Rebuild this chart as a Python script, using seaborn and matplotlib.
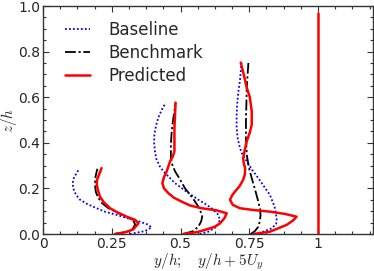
import numpy as np
import pandas as pd
import matplotlib
matplotlib.use("Agg")
import matplotlib.pyplot as plt
import seaborn as sns
from matplotlib.ticker import MultipleLocator

# ---- data (x = y/h + 5U_y, z = z/h) ----
# Station 1
s1_base_x = [0.316, 0.371, 0.395, 0.380, 0.353, 0.310, 0.268, 0.225, 0.195, 0.160, 0.135, 0.120, 0.110, 0.108, 0.112, 0.121, 0.132]
s1_base_z = [0.000, 0.013, 0.029, 0.042, 0.054, 0.068, 0.084, 0.098, 0.113, 0.132, 0.150, 0.172, 0.200, 0.223, 0.245, 0.265, 0.286]
s1_bench_x = [0.258, 0.300, 0.325, 0.335, 0.328, 0.300, 0.268, 0.238, 0.215, 0.200, 0.192, 0.189, 0.190, 0.194, 0.198]
s1_bench_z = [0.000, 0.008, 0.020, 0.042, 0.060, 0.078, 0.096, 0.113, 0.135, 0.160, 0.185, 0.215, 0.245, 0.268, 0.286]
s1_pred_x = [0.262, 0.300, 0.328, 0.347, 0.335, 0.304, 0.270, 0.244, 0.222, 0.207, 0.199, 0.195, 0.197, 0.201, 0.207, 0.213]
s1_pred_z = [0.000, 0.008, 0.020, 0.047, 0.062, 0.076, 0.095, 0.113, 0.138, 0.164, 0.195, 0.223, 0.240, 0.252, 0.270, 0.289]

# Station 2
s2_base_x = [0.570, 0.601, 0.632, 0.644, 0.635, 0.613, 0.590, 0.565, 0.535, 0.504, 0.478, 0.456, 0.438, 0.425, 0.412, 0.407, 0.404, 0.405, 0.411, 0.419, 0.432, 0.446]
s2_base_z = [0.000, 0.010, 0.032, 0.062, 0.088, 0.113, 0.132, 0.150, 0.175, 0.201, 0.225, 0.252, 0.275, 0.296, 0.330, 0.363, 0.400, 0.436, 0.475, 0.510, 0.545, 0.576]
s2_bench_x = [0.510, 0.545, 0.565, 0.575, 0.579, 0.570, 0.553, 0.535, 0.516, 0.498, 0.480, 0.470, 0.465, 0.465, 0.468, 0.473, 0.478, 0.482]
s2_bench_z = [0.000, 0.012, 0.032, 0.055, 0.076, 0.110, 0.142, 0.172, 0.201, 0.240, 0.275, 0.305, 0.333, 0.390, 0.451, 0.500, 0.540, 0.576]
s2_pred_x = [0.510, 0.560, 0.589, 0.625, 0.644, 0.660, 0.668, 0.630, 0.577, 0.535, 0.504, 0.475, 0.456, 0.440, 0.434, 0.440, 0.450, 0.462, 0.472, 0.478, 0.478, 0.478, 0.480, 0.482]
s2_pred_z = [0.000, 0.008, 0.018, 0.032, 0.047, 0.070, 0.091, 0.104, 0.113, 0.125, 0.142, 0.160, 0.179, 0.200, 0.223, 0.250, 0.275, 0.319, 0.340, 0.363, 0.420, 0.466, 0.520, 0.576]

# Station 3
s3_base_x = [0.770, 0.800, 0.832, 0.848, 0.850, 0.842, 0.825, 0.803, 0.783, 0.760, 0.741, 0.725, 0.716, 0.708, 0.704, 0.704, 0.706, 0.710, 0.716, 0.722]
s3_base_z = [0.000, 0.010, 0.025, 0.045, 0.069, 0.120, 0.172, 0.210, 0.245, 0.282, 0.319, 0.350, 0.378, 0.420, 0.466, 0.520, 0.568, 0.620, 0.671, 0.752]
s3_bench_x = [0.755, 0.770, 0.783, 0.789, 0.791, 0.789, 0.783, 0.771, 0.759, 0.748, 0.741, 0.738, 0.738, 0.741, 0.744, 0.747]
s3_bench_z = [0.000, 0.012, 0.032, 0.058, 0.084, 0.110, 0.142, 0.195, 0.245, 0.295, 0.348, 0.420, 0.495, 0.642, 0.700, 0.752]
s3_pred_x = [0.765, 0.825, 0.886, 0.910, 0.922, 0.880, 0.825, 0.760, 0.716, 0.690, 0.680, 0.688, 0.698, 0.715, 0.728, 0.734, 0.735, 0.730, 0.728, 0.734, 0.741, 0.752, 0.759, 0.759, 0.752, 0.741, 0.730, 0.719]
s3_pred_z = [0.000, 0.010, 0.040, 0.060, 0.076, 0.088, 0.098, 0.106, 0.113, 0.128, 0.150, 0.170, 0.186, 0.210, 0.238, 0.262, 0.289, 0.310, 0.333, 0.370, 0.407, 0.445, 0.480, 0.539, 0.600, 0.642, 0.700, 0.752]

# Station 4 (wall / outlet)
s4_pred_x = [1.0, 1.0]
s4_pred_z = [0.0, 0.97]

x_ticks = [0, 0.25, 0.5, 0.75, 1.0]
x_tick_labels = ["0", "0.25", "0.5", "0.75", "1"]
y_ticks = [0.0, 0.2, 0.4, 0.6, 0.8, 1.0]
y_tick_labels = ["0.0", "0.2", "0.4", "0.6", "0.8", "1.0"]

sns.set_style("white")
plt.rcParams["font.family"] = ["DejaVu Sans"]
plt.rcParams["mathtext.fontset"] = "cm"

fig = plt.figure(figsize=(3.74, 2.71), dpi=100)
ax = fig.add_axes([43/374, 37/271, 330/374, 228/271])

styles = {
    "Baseline": dict(color="blue", linestyle=(0, (1, 1.2)), linewidth=1.3),
    "Benchmark": dict(color="black", linestyle=(0, (6, 1.5, 1.2, 1.5)), linewidth=1.3),
    "Predicted": dict(color="red", linestyle="-", linewidth=1.8),
}

profiles = [
    ("Baseline", s1_base_x, s1_base_z),
    ("Benchmark", s1_bench_x, s1_bench_z),
    ("Predicted", s1_pred_x, s1_pred_z),
    ("Baseline", s2_base_x, s2_base_z),
    ("Benchmark", s2_bench_x, s2_bench_z),
    ("Predicted", s2_pred_x, s2_pred_z),
    ("Baseline", s3_base_x, s3_base_z),
    ("Benchmark", s3_bench_x, s3_bench_z),
    ("Predicted", s3_pred_x, s3_pred_z),
    ("Predicted", s4_pred_x, s4_pred_z),
]

seen = set()
for name, xs, zs in profiles:
    df = pd.DataFrame({"x": xs, "z": zs})
    lab = name if name not in seen else None
    seen.add(name)
    sns.lineplot(data=df, x="x", y="z", sort=False, estimator=None, ax=ax,
                 label=lab, **styles[name])

ax.set_xlim(0, 1.2)
ax.set_ylim(0, 1.0)
ax.set_xticks(x_ticks)
ax.set_xticklabels(x_tick_labels)
ax.set_yticks(y_ticks)
ax.set_yticklabels(y_tick_labels)
ax.xaxis.set_minor_locator(MultipleLocator(0.0625))
ax.yaxis.set_minor_locator(MultipleLocator(0.05))
ax.tick_params(which="both", direction="in", top=True, right=True, bottom=True, left=True,
               labelsize=10, color="#333333", width=0.8)
ax.tick_params(which="major", length=4, pad=2)
ax.tick_params(which="minor", length=2)
for sp in ax.spines.values():
    sp.set_color("#333333")
    sp.set_linewidth(1.0)

ax.set_xlabel(r"$y/h;\quad y/h+5U_y$", fontsize=11)
ax.set_ylabel(r"$z/h$", fontsize=11)
ax.xaxis.set_label_coords(0.5, -0.078)
ax.yaxis.set_label_coords(-0.074, 0.5)

leg = ax.legend(loc="upper left", frameon=False, fontsize=12, handlelength=1.5,
                handletextpad=1.1, labelspacing=0.3, bbox_to_anchor=(0.02, 1.0))

fig.savefig("out.png", dpi=100)
